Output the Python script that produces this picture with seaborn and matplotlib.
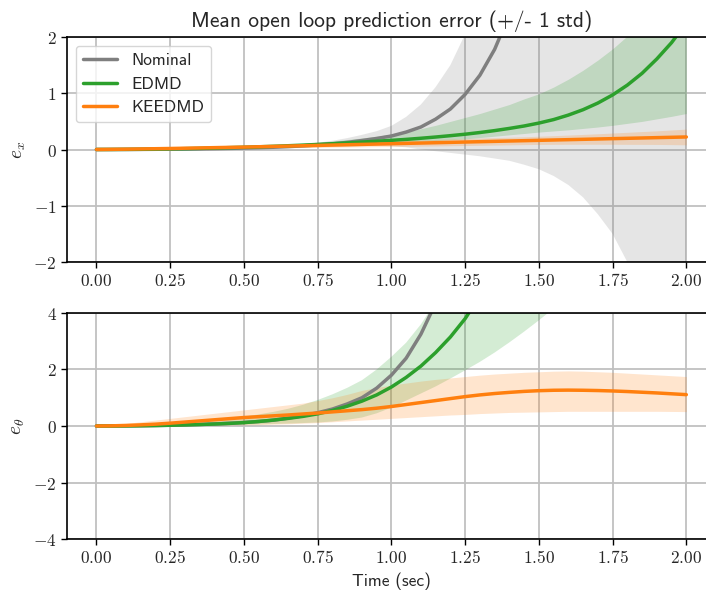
import numpy as np
import matplotlib
matplotlib.use("Agg")
import matplotlib.pyplot as plt
from matplotlib.ticker import FuncFormatter, MultipleLocator
import seaborn as sns

# Time grid of the open loop rollout (sec)
time_s = np.linspace(0.0, 2.0, 41)

# ---- position error e_x ----
nominal_x_mean = [0, 0.0003, 0.001, 0.002, 0.004, 0.006, 0.008, 0.011, 0.015, 0.02,
                  0.025, 0.032, 0.04, 0.051, 0.065, 0.081, 0.10, 0.127, 0.16, 0.196,
                  0.24, 0.31, 0.40, 0.54, 0.72, 0.98, 1.32, 1.78, 2.4, 3.2,
                  4.3, 5.8, 7.7, 10.4, 14, 18.7, 25, 33.5, 45, 60, 80]
nominal_x_std = [0, 0.0001, 0.0003, 0.0006, 0.0012, 0.0018, 0.0025, 0.0035, 0.005, 0.0068,
                 0.009, 0.012, 0.016, 0.022, 0.03, 0.04, 0.055, 0.075, 0.1, 0.13,
                 0.18, 0.27, 0.4, 0.57, 0.78, 1.07, 1.44, 1.94, 2.6, 3.47,
                 4.65, 6.27, 8.33, 11.25, 15.15, 20.2, 27, 36.2, 48.6, 65, 86.5]

edmd_x_mean = [0, 0.0005, 0.002, 0.004, 0.007, 0.011, 0.015, 0.02, 0.026, 0.033,
               0.04, 0.048, 0.057, 0.067, 0.078, 0.09, 0.103, 0.117, 0.132, 0.147,
               0.163, 0.18, 0.2, 0.222, 0.246, 0.272, 0.302, 0.336, 0.375, 0.418,
               0.47, 0.532, 0.612, 0.708, 0.826, 0.97, 1.145, 1.355, 1.61, 1.9, 2.25]
edmd_x_lo = [0, 0.0003, 0.001, 0.003, 0.005, 0.008, 0.011, 0.015, 0.019, 0.024,
             0.03, 0.036, 0.042, 0.049, 0.057, 0.065, 0.074, 0.084, 0.095, 0.107,
             0.12, 0.133, 0.146, 0.16, 0.175, 0.19, 0.213, 0.237, 0.261, 0.285,
             0.31, 0.33, 0.35, 0.375, 0.4, 0.43, 0.465, 0.5, 0.545, 0.59, 0.64]
edmd_x_hi = [0, 0.001, 0.003, 0.006, 0.01, 0.015, 0.021, 0.028, 0.036, 0.045,
             0.055, 0.066, 0.079, 0.094, 0.11, 0.13, 0.152, 0.177, 0.205, 0.237,
             0.273, 0.313, 0.37, 0.43, 0.5, 0.57, 0.64, 0.72, 0.8, 0.9,
             0.99, 1.11, 1.25, 1.41, 1.59, 1.79, 2.02, 2.28, 2.57, 2.9, 3.27]

keedmd_x_mean = [0, 0.003, 0.006, 0.01, 0.014, 0.018, 0.023, 0.028, 0.033, 0.038,
                 0.043, 0.049, 0.055, 0.061, 0.067, 0.073, 0.079, 0.085, 0.091, 0.097,
                 0.103, 0.109, 0.115, 0.121, 0.127, 0.133, 0.139, 0.145, 0.151, 0.157,
                 0.163, 0.169, 0.175, 0.181, 0.187, 0.193, 0.199, 0.205, 0.211, 0.217, 0.223]
keedmd_x_std = [0, 0.001, 0.002, 0.004, 0.006, 0.008, 0.01, 0.012, 0.014, 0.016,
                0.019, 0.022, 0.025, 0.028, 0.031, 0.034, 0.037, 0.04, 0.043, 0.046,
                0.05, 0.053, 0.055, 0.058, 0.06, 0.062, 0.064, 0.066, 0.068, 0.07,
                0.073, 0.077, 0.082, 0.087, 0.093, 0.1, 0.107, 0.114, 0.121, 0.13, 0.14]

# ---- angle error e_theta ----
nominal_th_mean = [0, 0.001, 0.004, 0.01, 0.018, 0.028, 0.04, 0.055, 0.074, 0.097,
                   0.125, 0.16, 0.205, 0.28, 0.36, 0.47, 0.6, 0.78, 1.0, 1.34,
                   1.8, 2.4, 3.25, 4.35, 5.85, 7.9, 10.6, 14.3, 19.2, 26,
                   35, 47, 63, 85, 115, 155, 208, 280, 378, 510, 690]

edmd_th_mean = [0, 0.001, 0.004, 0.009, 0.016, 0.026, 0.038, 0.053, 0.07, 0.092,
                0.12, 0.16, 0.21, 0.27, 0.34, 0.43, 0.55, 0.7, 0.88, 1.1,
                1.38, 1.72, 2.12, 2.6, 3.15, 3.8, 4.6, 5.5, 6.6, 7.9,
                9.4, 11.1, 13.1, 15.4, 18, 21, 24.5, 28.5, 33, 38, 44]
edmd_th_lo = [0, 0, 0.001, 0.002, 0.004, 0.007, 0.011, 0.016, 0.023, 0.032,
              0.043, 0.056, 0.07, 0.086, 0.104, 0.125, 0.16, 0.22, 0.3, 0.45,
              0.65, 0.9, 1.15, 1.4, 1.68, 1.97, 2.27, 2.6, 2.96, 3.34,
              3.74, 4.16, 4.6, 5.06, 5.55, 6.06, 6.6, 7.17, 7.77, 8.4, 9.06]
edmd_th_hi = [0, 0.003, 0.012, 0.027, 0.048, 0.075, 0.11, 0.15, 0.2, 0.26,
              0.33, 0.41, 0.5, 0.61, 0.75, 0.92, 1.12, 1.35, 1.62, 2.0,
              2.45, 2.95, 3.6, 4.4, 5.3, 6.4, 7.7, 9.3, 11.2, 13.5,
              16.2, 19.5, 23.5, 28, 34, 41, 49, 59, 71, 85, 102]

keedmd_th_mean = [0, 0.005, 0.02, 0.04, 0.065, 0.1, 0.14, 0.18, 0.22, 0.26,
                  0.3, 0.33, 0.36, 0.39, 0.425, 0.46, 0.5, 0.54, 0.58, 0.63,
                  0.69, 0.76, 0.83, 0.9, 0.97, 1.04, 1.1, 1.15, 1.19, 1.225,
                  1.25, 1.265, 1.27, 1.265, 1.255, 1.24, 1.22, 1.195, 1.17, 1.14, 1.11]
keedmd_th_lo = [0, 0, 0, 0.005, 0.01, 0.015, 0.02, 0.025, 0.03, 0.035,
                0.04, 0.05, 0.065, 0.08, 0.1, 0.12, 0.15, 0.18, 0.21, 0.24,
                0.27, 0.3, 0.33, 0.36, 0.39, 0.41, 0.44, 0.46, 0.48, 0.49,
                0.5, 0.51, 0.52, 0.52, 0.52, 0.52, 0.52, 0.52, 0.52, 0.515, 0.51]
keedmd_th_hi = [0, 0.04, 0.09, 0.15, 0.21, 0.27, 0.33, 0.39, 0.45, 0.51,
                0.57, 0.63, 0.69, 0.75, 0.81, 0.9, 1.0, 1.12, 1.26, 1.36,
                1.45, 1.52, 1.59, 1.65, 1.7, 1.75, 1.8, 1.84, 1.87, 1.9,
                1.92, 1.94, 1.95, 1.94, 1.92, 1.9, 1.87, 1.84, 1.81, 1.78, 1.75]

model_names = ["Nominal", "EDMD", "KEEDMD"]
model_colors = ["tab:gray", "tab:green", "tab:orange"]

sns.set_style("ticks")
plt.rcParams["mathtext.fontset"] = "cm"
sans = ["cmss10", "DejaVu Sans"]

fig = plt.figure(figsize=(7.06, 5.92), dpi=100)
ax_x = fig.add_axes([0.0949, 0.5574, 0.919, 0.3801])
ax_th = fig.add_axes([0.0949, 0.0895, 0.919, 0.3818])


def draw_series(ax, mean, lo, hi, color, label, legend):
    sns.lineplot(x=time_s, y=mean, ax=ax, color=color, lw=2.5,
                 label=label if legend else None, legend=False)
    if lo is not None:
        ax.fill_between(time_s, lo, hi, color=color, alpha=0.2, lw=0)


nx = np.array(nominal_x_mean); sx = np.array(nominal_x_std)
kx = np.array(keedmd_x_mean); skx = np.array(keedmd_x_std)
draw_series(ax_x, nx, nx - sx, nx + sx, model_colors[0], model_names[0], True)
draw_series(ax_x, edmd_x_mean, edmd_x_lo, edmd_x_hi, model_colors[1], model_names[1], True)
draw_series(ax_x, kx, kx - skx, kx + skx, model_colors[2], model_names[2], True)

draw_series(ax_th, nominal_th_mean, None, None, model_colors[0], model_names[0], False)
draw_series(ax_th, edmd_th_mean, edmd_th_lo, edmd_th_hi, model_colors[1], model_names[1], False)
draw_series(ax_th, keedmd_th_mean, keedmd_th_lo, keedmd_th_hi, model_colors[2], model_names[2], False)

tick_fmt_x = FuncFormatter(lambda v, p: f"${v:.2f}$")
tick_fmt_y = FuncFormatter(lambda v, p: f"${v:.0f}$")

for ax, (ylo, yhi), step in [(ax_x, (-2, 2), 1), (ax_th, (-4, 4), 2)]:
    ax.set_xlim(-0.1, 2.1)
    ax.set_ylim(ylo, yhi)
    ax.xaxis.set_major_locator(MultipleLocator(0.25))
    ax.yaxis.set_major_locator(MultipleLocator(step))
    ax.xaxis.set_major_formatter(tick_fmt_x)
    ax.yaxis.set_major_formatter(tick_fmt_y)
    ax.grid(True, color="#c0c0c0", lw=1.3)
    ax.set_axisbelow(True)
    ax.tick_params(labelsize=12.5, length=4, width=1, color="black")
    for sp in ax.spines.values():
        sp.set_color("black")
        sp.set_linewidth(1.2)
    ax.set_xlabel("")

ax_x.set_ylabel(r"$e_x$", fontsize=14)
ax_th.set_ylabel(r"$e_\theta$", fontsize=14)
ax_th.set_xlabel("Time (sec)", family=sans, fontsize=12.5)
ax_x.set_title("Mean open loop prediction error (+/- 1 std)", family=sans, fontsize=15.5, pad=7)

ax_x.legend(loc="upper left", prop={"family": sans, "size": 12.5},
            framealpha=0.8, edgecolor="#cccccc", fancybox=True)

fig.savefig("out.png", dpi=100)
